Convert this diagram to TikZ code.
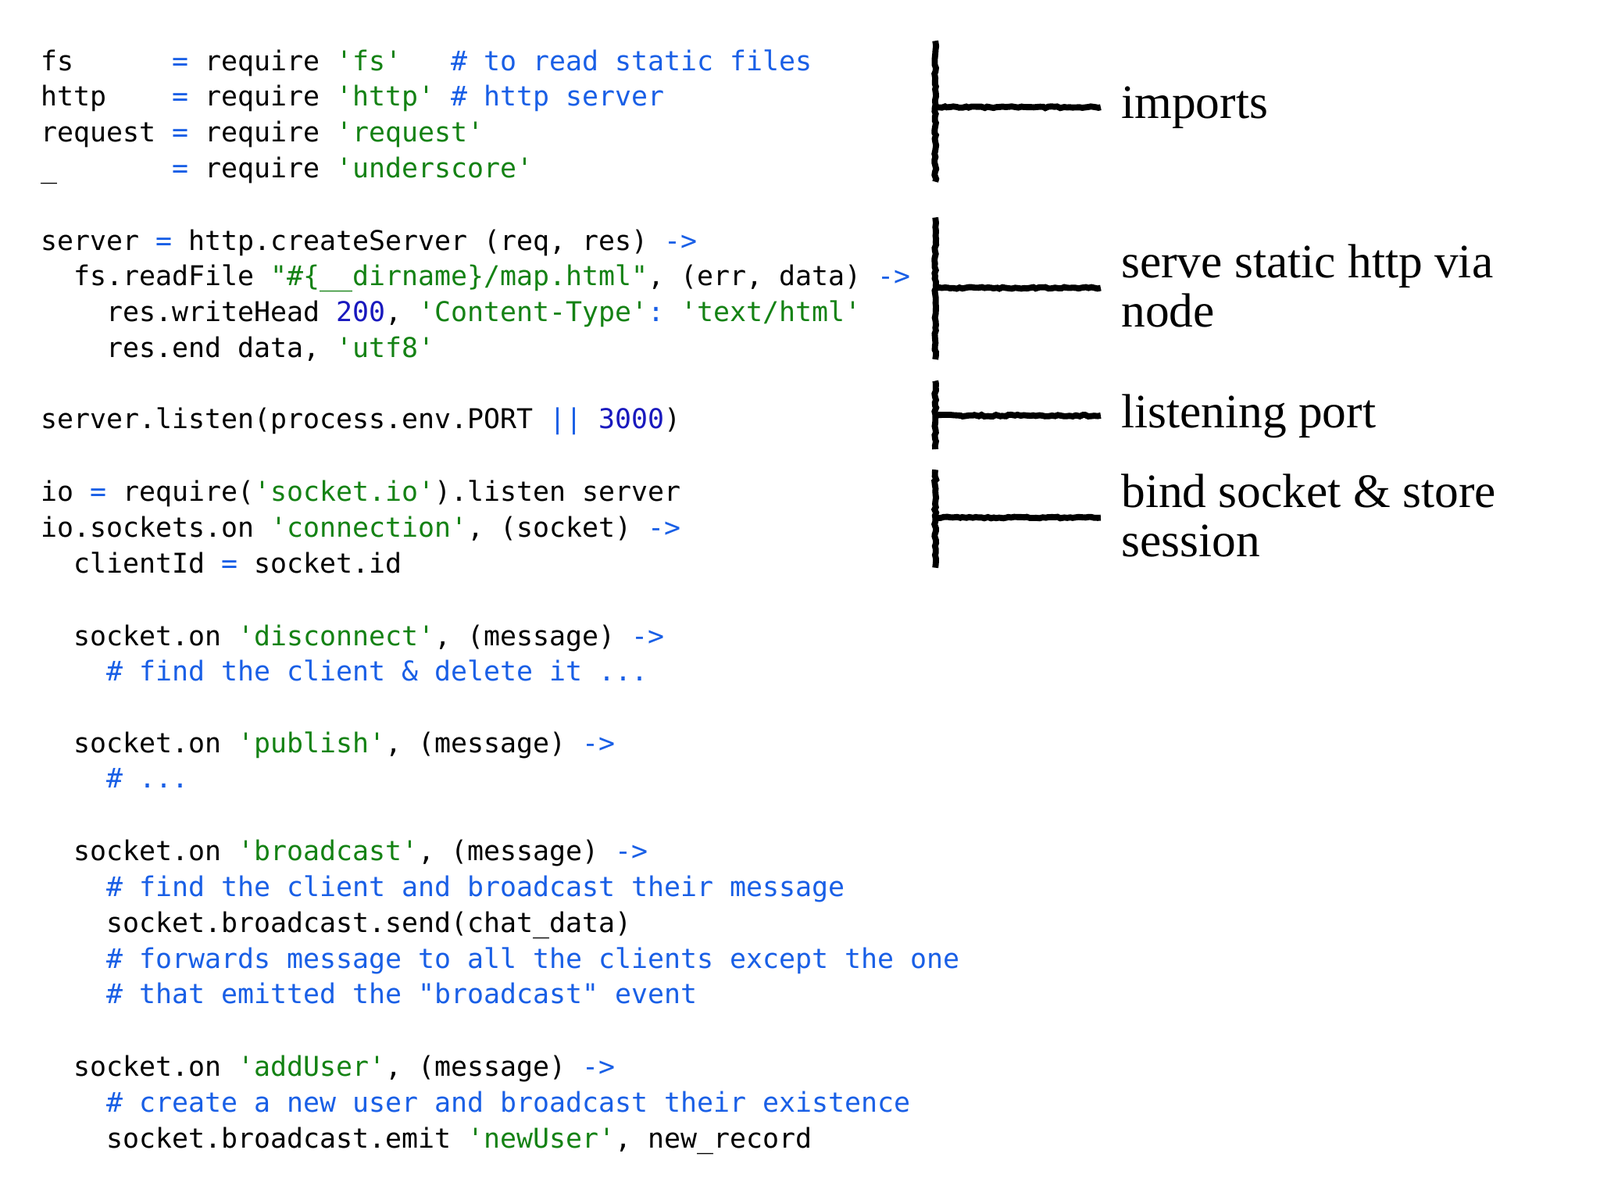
\documentclass[tikz,border=0pt]{standalone}
\usepackage{fontspec}
\setmonofont{DejaVu Sans Mono}
\setmainfont{Liberation Serif}
\usetikzlibrary{decorations.pathmorphing}
\definecolor{strc}{RGB}{20,130,20}
\definecolor{cmc}{RGB}{25,95,230}
\definecolor{numc}{RGB}{25,25,190}
\newcommand{\Str}[1]{\textcolor{strc}{#1}}
\newcommand{\Cm}[1]{\textcolor{cmc}{#1}}
\newcommand{\Op}[1]{\textcolor{cmc}{#1}}
\newcommand{\Nm}[1]{\textcolor{numc}{#1}}
\begin{document}
\begin{tikzpicture}[x=1pt,y=-1pt,
  code/.style={anchor=base west,inner sep=0pt,font=\fontsize{26.7}{30}\ttfamily},
  lbl/.style={anchor=west,inner sep=0pt,align=left,font=\fontsize{47}{48}\selectfont},
  brk/.style={line width=6pt,black,decorate,decoration={random steps,segment length=3pt,amplitude=0.8pt}}]
\useasboundingbox (0,0) rectangle (1567,1175);
\fill[white] (0,0) rectangle (1567,1175);
\def\L#1#2#3{\node[code] (c#1) at (40+#2*32,#1+9) {#3};}
\L{60}{0}{fs\ \ \ \ \ \ \Op{=} require \Str{'fs'}\ \ \ \Cm{\# to read static files}}
\L{95}{0}{http\ \ \ \ \Op{=} require \Str{'http'} \Cm{\# http server}}
\L{130}{0}{request \Op{=} require \Str{'request'}}
\L{165}{0}{\_\ \ \ \ \ \ \ \Op{=} require \Str{'underscore'}}
\L{236}{0}{server \Op{=} http.createServer (req, res) \Op{->}}
\L{271}{1}{fs.readFile \Str{"\#\{\_\_dirname\}/map.html"}, (err, data) \Op{->}}
\L{306}{2}{res.writeHead \Nm{200}, \Str{'Content-Type'}\Op{:} \Str{'text/html'}}
\L{341}{2}{res.end data, \Str{'utf8'}}
\L{411}{0}{server.listen(process.env.PORT \Op{||} \Nm{3000})}
\L{482}{0}{io \Op{=} require(\Str{'socket.io'}).listen server}
\L{517}{0}{io.sockets.on \Str{'connection'}, (socket) \Op{->}}
\L{552}{1}{clientId \Op{=} socket.id}
\L{623}{1}{socket.on \Str{'disconnect'}, (message) \Op{->}}
\L{658}{2}{\Cm{\# find the client \& delete it ...}}
\L{728}{1}{socket.on \Str{'publish'}, (message) \Op{->}}
\L{763}{2}{\Cm{\# ...}}
\L{834}{1}{socket.on \Str{'broadcast'}, (message) \Op{->}}
\L{869}{2}{\Cm{\# find the client and broadcast their message}}
\L{904}{2}{socket.broadcast.send(chat\_data)}
\L{939}{2}{\Cm{\# forwards message to all the clients except the one}}
\L{974}{2}{\Cm{\# that emitted the "broadcast" event}}
\L{1045}{1}{socket.on \Str{'addUser'}, (message) \Op{->}}
\L{1080}{2}{\Cm{\# create a new user and broadcast their existence}}
\L{1115}{2}{socket.broadcast.emit \Str{'newUser'}, new\_record}
% brackets
\def\B#1#2#3#4{\coordinate (t#1) at (916,#2); \coordinate (b#1) at (916,#3);
  \coordinate (m#1) at (916,#4); \coordinate (e#1) at (1078,#4);
  \draw[brk] (t#1) -- (b#1); \draw[brk] (m#1) -- (e#1);}
\B{1}{40}{178}{105}
\B{2}{213}{352}{282}
\B{3}{373}{440}{407}
\B{4}{460}{556}{507}
\node[lbl] (l1) at (1098,105) {imports};
\node[lbl] (l2) at (1098,280) {serve static http via\\node};
\node[lbl] (l3) at (1098,408) {listening port};
\node[lbl] (l4) at (1098,505) {bind socket \& store\\session};
\end{tikzpicture}
\end{document}
